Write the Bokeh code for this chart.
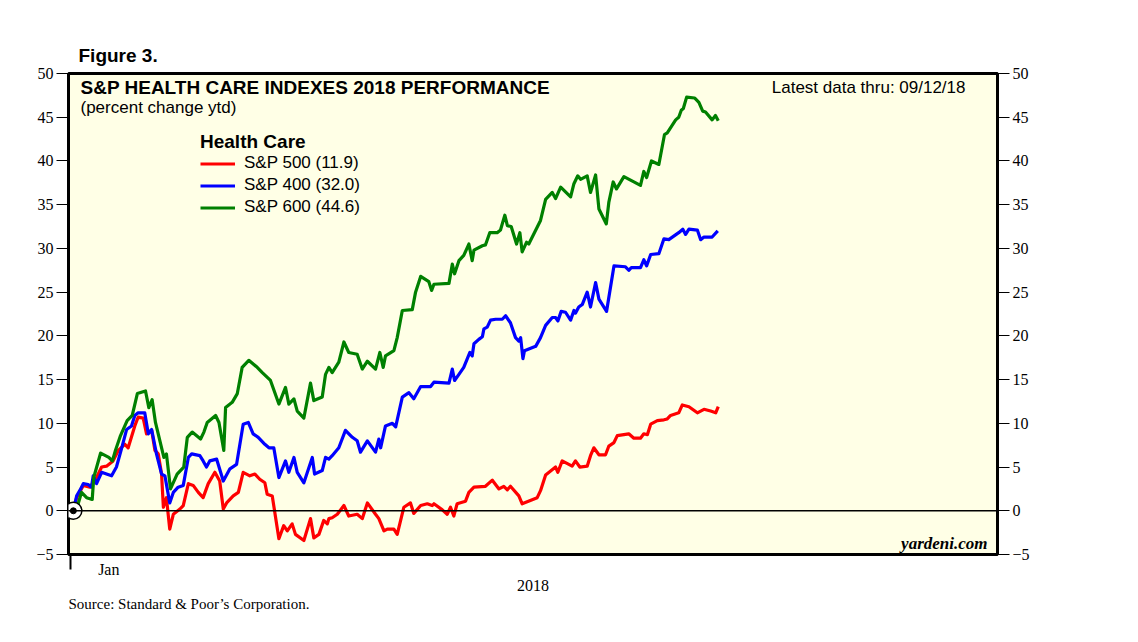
from bokeh.plotting import figure
from bokeh.models import (Range1d, LinearAxis, FixedTicker, Span, Label, Legend, LegendItem, Title)
from bokeh.embed import file_html
from bokeh.resources import INLINE

# x values: days since Jan 1, 2018
days_500 = [1.1, 2.4, 5.0, 7.6, 10.2, 12.2, 14.1, 16.7, 18.7, 21.3, 22.6, 25.2, 26.5, 28.5, 29.8, 31.8,
            33.1, 34.4, 35.7, 36.4, 37.6, 38.9, 40.3, 42.9, 44.2, 46.2, 48.1, 50.1, 52.0, 54.0, 56.6,
            58.5, 59.9, 61.2, 63.8, 65.8, 67.7, 70.3, 72.3, 74.2, 76.2, 77.1, 79.1, 81.7, 83.6, 85.0,
            86.9, 88.2, 91.5, 94.1, 95.4, 97.4, 99.3, 100.7, 101.3, 102.6, 104.6, 107.2, 109.1, 112.4,
            114.4, 116.4, 119.6, 120.9, 122.9, 124.2, 126.8, 128.1, 130.7, 133.3, 134.6, 137.3, 139.9,
            141.8, 142.5, 145.8, 147.7, 149.0, 150.3, 151.6, 154.9, 156.2, 158.2, 162.7, 165.4, 168.0,
            169.9, 171.3, 172.5, 175.8, 177.1, 183.0, 184.3, 186.3, 190.2, 191.1, 192.8, 195.4, 196.7,
            198.0, 199.7, 202.6, 203.9, 205.2, 207.2, 209.8, 211.1, 213.1, 214.4, 218.9, 220.9, 223.5,
            224.8, 226.2, 227.5, 230.1, 232.7, 234.0, 235.3, 238.5, 239.9, 242.5, 245.8, 248.4, 251.0,
            253.0, 254.0]
vals_500 = [0.0, 1.5, 2.9, 2.7, 3.8, 5.0, 5.1, 5.7, 6.9, 7.6, 7.2, 9.7, 10.7, 10.6, 8.8, 9.2,
            6.9, 6.5, 4.2, 0.4, 1.5, -2.1, -0.4, 0.2, 0.6, 3.1, 2.9, 2.1, 1.5, 3.1, 4.4,
            3.4, 0.2, 0.9, 1.7, 2.1, 4.4, 4.0, 4.2, 3.6, 3.2, 1.9, 1.7, -3.2, -1.7, -2.3,
            -1.5, -2.7, -3.4, -0.9, -3.1, -2.7, -1.1, -1.5, -0.9, -0.8, -0.4, 0.6, -0.6, -0.4,
            -0.9, 0.9, -0.4, -0.9, -2.3, -2.1, -2.1, -2.7, 0.4, 0.9, -0.3, 0.6, 0.8,
            0.6, 0.8, 0.1, -0.4, 0.4, -0.6, 0.8, 1.1, 2.1, 2.7, 2.8, 3.5, 2.5,
            2.8, 2.4, 2.8, 1.7, 0.8, 1.5, 2.3, 4.1, 5.0, 4.4, 5.7, 5.3, 5.1,
            5.7, 5.0, 5.1, 6.3, 7.2, 6.4, 6.4, 7.4, 7.8, 8.6, 8.8, 8.3, 8.3,
            8.8, 8.7, 9.9, 10.3, 10.4, 10.5, 10.9, 11.2, 12.1, 11.9, 11.2, 11.6, 11.4,
            11.2, 11.9]

days_400 = [1.1, 2.4, 3.6, 5.0, 6.9, 8.2, 8.9, 10.2, 12.2, 14.1, 16.1, 18.0, 20.0, 22.0, 23.9, 25.2,
            26.5, 29.1, 30.5, 31.8, 33.7, 35.7, 37.0, 38.9, 40.3, 42.2, 44.2, 46.2, 47.5, 50.7, 52.0,
            53.3, 54.6, 57.3, 59.9, 62.5, 65.1, 67.7, 69.7, 71.6, 73.6, 76.2, 77.8, 79.7, 81.7, 84.3,
            85.6, 87.6, 88.9, 91.5, 94.8, 95.7, 98.7, 100.0, 101.3, 102.6, 105.2, 107.8, 110.5, 112.4,
            113.7, 116.4, 119.6, 120.9, 121.6, 123.5, 126.2, 127.5, 130.1, 132.7, 134.6, 137.3, 141.2,
            142.5, 148.4, 149.7, 150.6, 152.3, 154.2, 155.6, 156.6, 157.5, 158.2, 160.1, 161.5, 162.1,
            163.4, 164.7, 166.7, 169.3, 170.6, 172.5, 174.5, 175.8, 176.5, 177.4, 178.0, 182.4, 184.3,
            186.3, 188.9, 190.2, 191.1, 192.4, 194.1, 196.1, 197.4, 198.0, 199.3, 200.7, 202.6, 203.9,
            205.9, 207.2, 210.2, 213.1, 217.6, 218.9, 219.9, 223.5, 224.8, 225.9, 227.5, 230.7, 232.7,
            234.6, 238.5, 240.1, 241.2, 242.5, 245.8, 247.1, 248.4, 251.6, 253.8]
vals_400 = [0.0, 1.7, 2.3, 3.1, 3.0, 2.7, 4.0, 3.1, 4.4, 4.2, 4.0, 5.0, 7.1, 9.3, 9.7, 10.9,
            11.2, 11.2, 8.8, 9.3, 6.5, 4.2, 4.0, 0.9, 2.1, 2.7, 2.9, 6.1, 6.5, 6.3, 5.7,
            5.0, 5.7, 5.9, 3.4, 4.8, 5.3, 9.9, 10.1, 8.8, 8.4, 7.6, 7.2, 7.2, 3.8, 5.7,
            4.4, 6.1, 4.4, 3.2, 6.1, 4.2, 4.6, 6.1, 5.9, 6.3, 7.2, 9.2, 8.4, 8.0,
            6.7, 8.0, 6.7, 8.2, 7.2, 9.7, 10.0, 9.6, 13.0, 13.5, 12.8, 14.2, 14.2,
            14.7, 14.6, 16.2, 14.9, 15.6, 16.4, 17.4, 18.1, 17.7, 19.1, 19.6, 19.9, 20.8,
            21.0, 21.8, 21.9, 21.9, 22.3, 21.5, 19.8, 19.4, 19.8, 17.4, 18.3, 18.8, 19.8,
            21.2, 22.1, 22.1, 21.7, 22.8, 22.7, 21.8, 22.9, 22.6, 23.3, 23.6, 25.0, 23.3,
            26.1, 24.2, 22.8, 28.0, 27.9, 27.5, 27.8, 27.8, 28.7, 28.0, 29.3, 29.4, 31.1,
            31.0, 31.8, 32.2, 31.6, 32.2, 32.1, 31.0, 31.3, 31.3, 32.0]

days_600 = [1.1, 3.0, 4.3, 6.3, 8.5, 9.1, 11.8, 15.0, 16.4, 17.6, 19.6, 22.2, 24.2, 26.2, 29.4, 30.7,
            32.0, 33.3, 36.6, 37.6, 39.2, 41.8, 44.4, 45.8, 47.7, 51.0, 52.3, 53.6, 56.9, 58.2, 60.1,
            60.8, 63.4, 65.4, 67.3, 69.9, 73.2, 75.2, 78.4, 81.7, 84.3, 85.6, 87.6, 88.9, 91.5, 94.1,
            95.4, 98.7, 100.0, 101.3, 102.6, 105.2, 107.2, 109.1, 112.4, 114.4, 116.4, 119.6, 121.3,
            122.6, 123.5, 126.8, 128.1, 130.1, 134.0, 135.3, 137.3, 140.5, 141.6, 142.5, 148.4, 149.7,
            150.6, 152.3, 154.2, 156.2, 157.5, 158.2, 161.5, 162.7, 164.4, 167.3, 168.6, 170.3, 171.3,
            172.8, 174.9, 176.2, 177.1, 178.8, 179.7, 184.3, 186.3, 188.9, 190.2, 192.2, 196.1, 197.4,
            198.9, 200.0, 202.6, 203.9, 205.9, 207.2, 210.1, 211.1, 212.8, 214.1, 217.0, 223.5, 224.8,
            225.9, 227.8, 230.7, 232.9, 234.0, 237.3, 238.5, 239.5, 240.3, 241.6, 244.7, 246.4, 247.9,
            249.0, 251.6, 252.9, 254.0]
vals_600 = [0.0, 0.8, 2.1, 1.5, 1.3, 3.8, 6.6, 6.1, 5.7, 6.9, 8.6, 10.3, 10.9, 13.4, 13.7, 11.8,
            12.7, 10.1, 6.1, 6.5, 2.5, 4.2, 5.0, 8.4, 9.0, 8.2, 9.0, 10.1, 10.9, 10.1, 6.9,
            11.8, 12.4, 13.4, 16.4, 17.2, 16.4, 15.8, 14.9, 12.2, 14.1, 12.2, 12.8, 11.4, 10.6, 14.6,
            12.6, 13.0, 15.6, 16.4, 15.8, 17.0, 19.3, 18.1, 17.9, 16.2, 17.1, 16.2, 18.1,
            16.4, 17.7, 18.3, 19.8, 22.9, 23.0, 25.0, 26.8, 26.2, 25.2, 25.9, 26.0, 28.2,
            27.1, 28.6, 29.2, 30.5, 28.6, 29.8, 30.3, 30.4, 31.8, 31.8, 32.1, 33.8, 32.6,
            32.5, 30.5, 31.8, 29.6, 30.7, 30.5, 33.2, 35.6, 36.4, 35.7, 37.0, 35.9, 37.4,
            38.3, 37.9, 38.3, 36.4, 38.4, 34.5, 32.8, 35.3, 37.6, 36.8, 38.2, 37.2, 38.8,
            38.1, 40.0, 39.6, 43.0, 43.2, 44.7, 45.0, 45.8, 46.0, 47.3, 47.2, 46.7, 45.7,
            45.6, 44.7, 45.2, 44.6]

series_names = ["S&P 500", "S&P 400", "S&P 600"]
series_colors = ["#FF0000", "#0000FF", "#008000"]
y_ticks = [-5, 0, 5, 10, 15, 20, 25, 30, 35, 40, 45, 50]

SANS = "Liberation Sans"
SERIF = "Liberation Serif"

p = figure(width=1128, height=634, x_range=Range1d(-0.8, 363.5), y_range=Range1d(-5, 50),
           output_backend="svg", toolbar_location=None,
           x_axis_location=None, y_axis_location=None,
           min_border_left=68, min_border_right=131, min_border_top=73, min_border_bottom=80)
p.background_fill_color = "#FFFFE6"
p.border_fill_color = "white"
p.outline_line_color = "black"
p.outline_line_width = 3
p.grid.grid_line_color = None

def y_axis():
    return LinearAxis(ticker=FixedTicker(ticks=y_ticks), major_tick_out=12, major_tick_in=0,
                      minor_tick_out=0, minor_tick_in=0, axis_line_color=None,
                      major_tick_line_color="black", major_label_standoff=3,
                      major_label_text_font=SERIF, major_label_text_font_size="16px",
                      major_label_text_color="black")

p.add_layout(y_axis(), "left")
p.add_layout(y_axis(), "right")

bx = LinearAxis(ticker=FixedTicker(ticks=[15], minor_ticks=[0]), major_tick_out=0, major_tick_in=0,
                minor_tick_out=15, minor_tick_in=0, minor_tick_line_width=2,
                minor_tick_line_color="black", axis_line_color=None,
                major_label_overrides={15: "Jan"}, major_label_standoff=-9,
                major_label_text_font=SERIF, major_label_text_font_size="16px",
                major_label_text_color="black",
                axis_label="2018", axis_label_text_font=SERIF, axis_label_text_font_size="16px",
                axis_label_text_font_style="normal", axis_label_text_color="black",
                axis_label_standoff=-1)
p.add_layout(bx, "below")

p.add_layout(Title(text="Source: Standard & Poor\u2019s Corporation.", align="left", offset=0,
                   text_font=SERIF, text_font_size="15px", text_font_style="normal",
                   text_color="black", standoff=0), "below")
p.add_layout(Title(text="Figure 3.", align="left", offset=10, text_font=SANS,
                   text_font_size="19px", text_font_style="bold", text_color="black",
                   standoff=15), "above")

p.add_layout(Span(location=0, dimension="width", line_color="black", line_width=1.3))

renderers = []
for d, v, c in [(days_500, vals_500, series_colors[0]), (days_400, vals_400, series_colors[1]),
                (days_600, vals_600, series_colors[2])]:
    r = p.line(d, v, line_color=c, line_width=3.2, line_join="round")
    renderers.append(r)

# origin marker
p.scatter([days_500[0]], [vals_500[0]], size=17, fill_color="white", line_color="black", line_width=1.5)
p.scatter([days_500[0]], [vals_500[0]], size=6, fill_color="black", line_color="black")

last_vals = [vals_500[-1], vals_400[-1], vals_600[-1]]
items = [LegendItem(label=f"{n} ({lv:.1f})", renderers=[r])
         for n, lv, r in zip(series_names, last_vals, renderers)]
legend = Legend(items=items, location=(132, 337), title="Health Care",
                title_text_font=SANS, title_text_font_style="bold", title_text_font_size="19px",
                title_text_color="black", title_standoff=-2,
                label_text_font=SANS, label_text_font_size="17px", label_text_color="black",
                glyph_width=35, glyph_height=17, label_height=17, label_standoff=9, spacing=2,
                padding=0, margin=0, border_line_color=None, background_fill_alpha=0)
p.add_layout(legend)

def lab(text, x, y, font, size, style="normal", align="left"):
    p.add_layout(Label(x=x, y=y, x_units="screen", y_units="screen", text=text, text_font=font,
                       text_font_size=size, text_font_style=style, text_align=align,
                       text_baseline="middle", text_color="black"))

lab("S&P HEALTH CARE INDEXES 2018 PERFORMANCE", 12, 467, SANS, "19px", "bold")
lab("(percent change ytd)", 12, 447, SANS, "17px")
lab("Latest data thru: 09/12/18", 897, 467, SANS, "17px", align="right")
lab("yardeni.com", 919, 11, SERIF, "17px", "bold italic", align="right")

open("out.html", "w").write(file_html(p, INLINE))
